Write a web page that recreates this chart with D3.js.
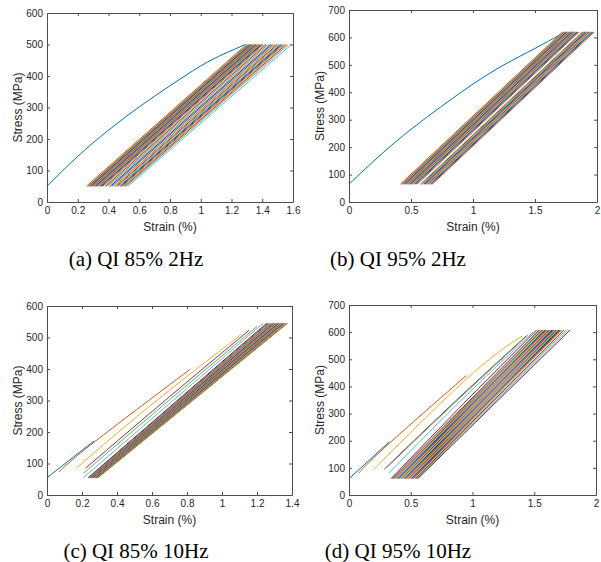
<!DOCTYPE html>
<html>
<head>
<meta charset="utf-8">
<script src="https://cdn.jsdelivr.net/npm/d3@7"></script>
<style>
  body { margin: 0; background: #fff; }
  svg { display: block; }
  .tick text { font-family: "Liberation Sans", Arial, sans-serif; font-size: 10px; fill: #262626; }
  .lab { font-family: "Liberation Sans", Arial, sans-serif; font-size: 12px; fill: #262626; }
  .cap { font-family: "Liberation Serif", "Times New Roman", serif; font-size: 21px; fill: #000; }
</style>
</head>
<body>
<svg id="svg" width="601" height="562"></svg>
<script>
// matlab default line colours
const colors = ["#0072BD", "#D95319", "#EDB120", "#7E2F8E", "#77AC30", "#4DBEEE", "#A2142F"];

//////////////////////////////////////////////////////////////////////////////
// (a) QI 85% 2Hz
const aLoadStrain = [0, 0.2, 0.4, 0.6, 0.8, 1.0, 1.15, 1.29];
const aLoadStress = [50, 145, 228, 302, 369, 432, 470, 500];
const aMin = 50, aMax = 500;
const aStart = [0.256, 0.262, 0.268, 0.272, 0.277, 0.281, 0.286, 0.290, 0.295, 0.299,
  0.304, 0.309, 0.313, 0.318, 0.323, 0.328, 0.333, 0.338, 0.343, 0.349, 0.355, 0.362,
  0.372, 0.381, 0.392, 0.402, 0.412, 0.422,
  0.436, 0.444, 0.452, 0.460, 0.468, 0.476, 0.483, 0.490, 0.498, 0.506, 0.515, 0.527];
const aEnd = [1.297, 1.303, 1.309, 1.314, 1.319, 1.323, 1.328, 1.333, 1.338, 1.342,
  1.347, 1.352, 1.357, 1.362, 1.367, 1.372, 1.377, 1.382, 1.387, 1.393, 1.399, 1.406,
  1.416, 1.425, 1.436, 1.447, 1.457, 1.467,
  1.480, 1.488, 1.497, 1.505, 1.514, 1.522, 1.530, 1.538, 1.547, 1.556, 1.570, 1.590];

// (b) QI 95% 2Hz
const bLoadStrain = [0, 0.25, 0.5, 0.75, 1.0, 1.25, 1.5, 1.71];
const bLoadStress = [65, 170, 265, 350, 430, 500, 560, 612];
const bMin = 65, bMax = 620;
const bStart = [0.414, 0.421, 0.428, 0.434, 0.440, 0.446, 0.452, 0.458, 0.464, 0.470,
  0.476, 0.482, 0.488, 0.494, 0.500, 0.506, 0.512, 0.518, 0.525, 0.532, 0.540, 0.550,
  0.575, 0.583, 0.591, 0.598, 0.605, 0.612, 0.619, 0.626, 0.633, 0.640, 0.648, 0.656, 0.664, 0.672];
const bEnd = [1.722, 1.729, 1.735, 1.741, 1.747, 1.753, 1.759, 1.765, 1.771, 1.777,
  1.783, 1.789, 1.795, 1.801, 1.807, 1.813, 1.819, 1.825, 1.832, 1.839, 1.846, 1.855,
  1.880, 1.887, 1.894, 1.901, 1.908, 1.915, 1.922, 1.929, 1.936, 1.943, 1.951, 1.959, 1.967, 1.977];

// (c) QI 85% 10Hz : first cycles ramp up (start, bend, top), then steady
const cLoadStrain = [0, 0.27];
const cLoadStress = [55, 172];
const cRampX0 = [0.068, 0.165, 0.220, 0.210, 0.208, 0.235];
const cRampY0 = [73, 84, 85, 70, 55, 55];
const cRampXm = [0.27, 0.60, 0.70, 0.70, 0.72, 0.74];
const cRampYm = [168, 288, 312, 302, 300, 298];
const cRampX1 = [0.82, 1.11, 1.155, 1.20, 1.235, 1.255];
const cRampY1 = [400, 510, 523, 535, 545, 545];
const cMin = 55, cMax = 545;
const cStart = [0.240, 0.242, 0.244, 0.246, 0.248, 0.250, 0.252, 0.254, 0.256, 0.258,
  0.260, 0.262, 0.264, 0.266, 0.268, 0.270, 0.272, 0.274, 0.276, 0.278, 0.280, 0.282,
  0.284, 0.286, 0.289, 0.292];
const cEnd = [1.262, 1.268, 1.273, 1.278, 1.283, 1.288, 1.293, 1.298, 1.302, 1.306,
  1.310, 1.314, 1.318, 1.322, 1.326, 1.330, 1.334, 1.338, 1.342, 1.346, 1.350, 1.354,
  1.358, 1.363, 1.369, 1.375];

// (d) QI 95% 10Hz
const dLoadStrain = [0, 0.327];
const dLoadStress = [60, 196];
const dRampX0 = [0.078, 0.20, 0.286, 0.31, 0.32, 0.34];
const dRampY0 = [81, 95, 95, 103, 80, 60];
const dRampXm = [0.33, 0.97, 0.86, 0.88, 0.90, 0.93];
const dRampYm = [192, 435, 345, 350, 345, 338];
const dRampX1 = [0.95, 1.40, 1.435, 1.45, 1.49, 1.52];
const dRampY1 = [440, 585, 586, 590, 600, 608];
const dMin = 60, dMax = 608;
const dStart = [0.350, 0.357, 0.364, 0.371, 0.378, 0.386, 0.394, 0.402, 0.410, 0.418,
  0.426, 0.434, 0.442, 0.450, 0.458, 0.466, 0.474, 0.482, 0.490, 0.498, 0.506, 0.514,
  0.522, 0.530, 0.538, 0.545, 0.551, 0.557];
const dEnd = [1.540, 1.548, 1.556, 1.564, 1.572, 1.580, 1.588, 1.596, 1.604, 1.612,
  1.620, 1.628, 1.636, 1.644, 1.652, 1.660, 1.668, 1.676, 1.684, 1.692, 1.700, 1.708,
  1.716, 1.725, 1.740, 1.755, 1.772, 1.790];

//////////////////////////////////////////////////////////////////////////////

// build a list of polylines from the arrays; y values may be a single number
function cycles(x0, y0, x1, y1, xm, ym) {
  let out = [];
  for (let i = 0; i < x0.length; ++i) {
    let pts = [[x0[i], Array.isArray(y0) ? y0[i] : y0]];
    if (xm !== undefined) pts.push([xm[i], ym[i]]);
    pts.push([x1[i], Array.isArray(y1) ? y1[i] : y1]);
    out.push(pts);
  }
  return out;
}

const panels = [
  { box: [47, 13, 293, 202], xMax: 1.6, xStep: 0.2, yMax: 600, cap: "(a) QI 85% 2Hz", capX: 136, capY: 266,
    load: [aLoadStrain, aLoadStress], segs: cycles(aStart, aMin, aEnd, aMax) },
  { box: [349, 10, 597, 202], xMax: 2, xStep: 0.5, yMax: 700, cap: "(b) QI 95% 2Hz", capX: 398, capY: 266,
    load: [bLoadStrain, bLoadStress], segs: cycles(bStart, bMin, bEnd, bMax) },
  { box: [47, 306, 292, 495], xMax: 1.4, xStep: 0.2, yMax: 600, cap: "(c) QI 85% 10Hz", capX: 136, capY: 558,
    load: [cLoadStrain, cLoadStress],
    segs: cycles(cRampX0, cRampY0, cRampX1, cRampY1, cRampXm, cRampYm).concat(cycles(cStart, cMin, cEnd, cMax)) },
  { box: [349, 305, 596, 495], xMax: 2, xStep: 0.5, yMax: 700, cap: "(d) QI 95% 10Hz", capX: 398, capY: 558,
    load: [dLoadStrain, dLoadStress],
    segs: cycles(dRampX0, dRampY0, dRampX1, dRampY1, dRampXm, dRampYm).concat(cycles(dStart, dMin, dEnd, dMax)) }
];

let svg = d3.select("#svg");
svg.append("rect").attr("width", 601).attr("height", 562).attr("fill", "#fff");

const fmt = d3.format("~g");

panels.forEach(function(p) {
  let [x1, y1, x2, y2] = p.box;
  let x = d3.scaleLinear().domain([0, p.xMax]).range([x1, x2]);
  let y = d3.scaleLinear().domain([0, p.yMax]).range([y2, y1]);
  let xt = d3.range(0, p.xMax + 1e-9, p.xStep);
  let yt = d3.range(0, p.yMax + 1, 100);

  let g = svg.append("g");

  // data lines
  let lines = g.append("g").attr("fill", "none").attr("stroke-width", 1);
  let lf = d3.line().x(d => x(d[0])).y(d => y(d[1])).curve(d3.curveNatural);
  lines.append("path")
    .attr("d", lf(p.load[0].map((v, i) => [v, p.load[1][i]])))
    .attr("stroke", colors[0]);
  lines.selectAll(".seg").data(p.segs).enter().append("path")
    .attr("d", d => lf(d))
    .attr("stroke", (d, i) => colors[(i + 1) % 7]);

  // axes, ticks inside like matlab
  let tick = 3;
  g.append("g").attr("transform", `translate(0,${y2})`)
    .call(d3.axisBottom(x).tickValues(xt).tickFormat(fmt).tickSizeInner(-tick).tickSizeOuter(0).tickPadding(5));
  g.append("g").attr("transform", `translate(${x1},0)`)
    .call(d3.axisLeft(y).tickValues(yt).tickFormat(fmt).tickSizeInner(-tick).tickSizeOuter(0).tickPadding(4));
  g.append("g").attr("transform", `translate(0,${y1})`)
    .call(d3.axisTop(x).tickValues(xt).tickFormat("").tickSizeInner(-tick).tickSizeOuter(0));
  g.append("g").attr("transform", `translate(${x2},0)`)
    .call(d3.axisRight(y).tickValues(yt).tickFormat("").tickSizeInner(-tick).tickSizeOuter(0));
  g.selectAll(".domain, .tick line").attr("stroke", "#4d4d4d");

  g.append("text").attr("class", "lab")
    .attr("x", (x1 + x2) / 2).attr("y", y2 + 29)
    .attr("text-anchor", "middle").text("Strain (%)");
  g.append("text").attr("class", "lab")
    .attr("transform", `translate(${x1 - 25},${(y1 + y2) / 2}) rotate(-90)`)
    .attr("text-anchor", "middle").text("Stress (MPa)");

  svg.append("text").attr("class", "cap")
    .attr("x", p.capX).attr("y", p.capY)
    .attr("text-anchor", "middle").text(p.cap);
});
</script>
</body>
</html>
